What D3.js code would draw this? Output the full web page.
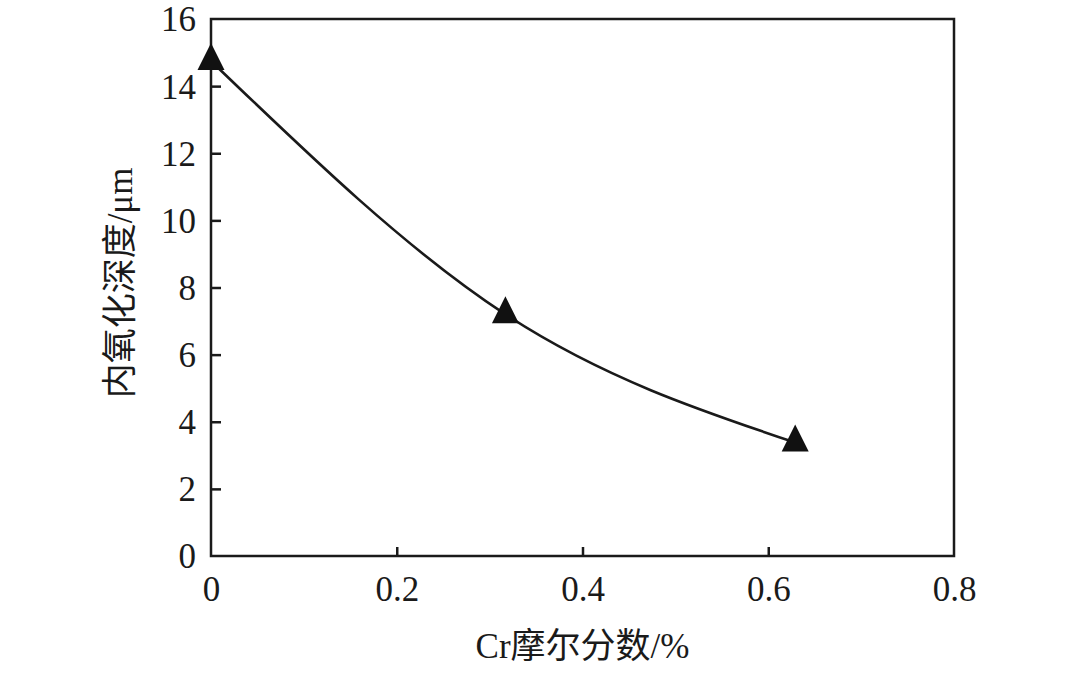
<!DOCTYPE html>
<html>
<head>
<meta charset="utf-8">
<script src="https://cdn.jsdelivr.net/npm/d3@7"></script>
<style>
  html, body { margin: 0; padding: 0; background: #fff; }
  svg { display: block; }
  text { fill: #1a1a1a; }
</style>
</head>
<body>
<svg id="chart" width="1080" height="673"></svg>
<script>
// Data
const crFraction = [0, 0.317, 0.629];
const oxDepth = [14.75, 7.2, 3.38];
const xTicks = [0, 0.2, 0.4, 0.6, 0.8];
const yTicks = [0, 2, 4, 6, 8, 10, 12, 14, 16];
const xTitle = "Cr摩尔分数/%";
const yTitle = "内氧化深度/μm";

const svg = d3.select("#chart");
const plotL = 211, plotR = 954, plotT = 19, plotB = 556;

const x = d3.scaleLinear().domain([0, 0.8]).range([plotL, plotR]);
const y = d3.scaleLinear().domain([0, 16]).range([plotB, plotT]);

const serif = "'Liberation Serif', 'Times New Roman', 'Noto Sans CJK SC', serif";
const stroke = "#1a1a1a";

// Frame
svg.append("rect")
  .attr("x", plotL).attr("y", plotT)
  .attr("width", plotR - plotL).attr("height", plotB - plotT)
  .attr("fill", "none").attr("stroke", stroke).attr("stroke-width", 2.5);

// Axes (inward ticks)
const xAxis = d3.axisBottom(x).tickValues(xTicks).tickSize(-9).tickPadding(0).tickFormat(d => d === 0 ? "0" : d3.format(".1f")(d));
const yAxis = d3.axisLeft(y).tickValues(yTicks).tickSize(-10).tickPadding(0).tickFormat(d3.format("d"));

const gx = svg.append("g").attr("transform", `translate(0,${plotB})`).call(xAxis);
gx.select(".domain").remove();
gx.selectAll(".tick line").attr("stroke", stroke).attr("stroke-width", 2.5)
  .filter(d => d === 0 || d === 0.8).remove();
gx.selectAll(".tick text")
  .attr("font-family", serif).attr("font-size", 35).attr("fill", stroke)
  .attr("y", 45).attr("dy", 0);

const gy = svg.append("g").attr("transform", `translate(${plotL},0)`).call(yAxis);
gy.select(".domain").remove();
gy.selectAll(".tick line").attr("stroke", stroke).attr("stroke-width", 2.5)
  .filter(d => d === 0 || d === 16).remove();
gy.selectAll(".tick text")
  .attr("font-family", serif).attr("font-size", 35).attr("fill", stroke)
  .attr("x", -15).attr("dy", "0.34em");

// Curve
const pts = crFraction.map((c, i) => [c, oxDepth[i]]);
const line = d3.line().x(d => x(d[0])).y(d => y(d[1])).curve(d3.curveNatural);
svg.append("path").datum(pts)
  .attr("d", line)
  .attr("fill", "none").attr("stroke", stroke).attr("stroke-width", 2.6);

// Triangle markers
const triW = 27, triH = 27;
const triPath = `M0,${-triH * 2 / 3}L${triW / 2},${triH / 3}L${-triW / 2},${triH / 3}Z`;
svg.append("g").selectAll("path").data(pts).join("path")
  .attr("d", triPath)
  .attr("transform", d => `translate(${x(d[0])},${y(d[1])})`)
  .attr("fill", "#111");

// Titles
svg.append("text")
  .attr("x", x(0.4)).attr("y", 658)
  .attr("text-anchor", "middle")
  .attr("font-family", serif).attr("font-size", 35)
  .text(xTitle);

svg.append("text")
  .attr("transform", `translate(132,283) rotate(-90)`)
  .attr("text-anchor", "middle")
  .attr("font-family", serif).attr("font-size", 35)
  .text(yTitle);
</script>
</body>
</html>
